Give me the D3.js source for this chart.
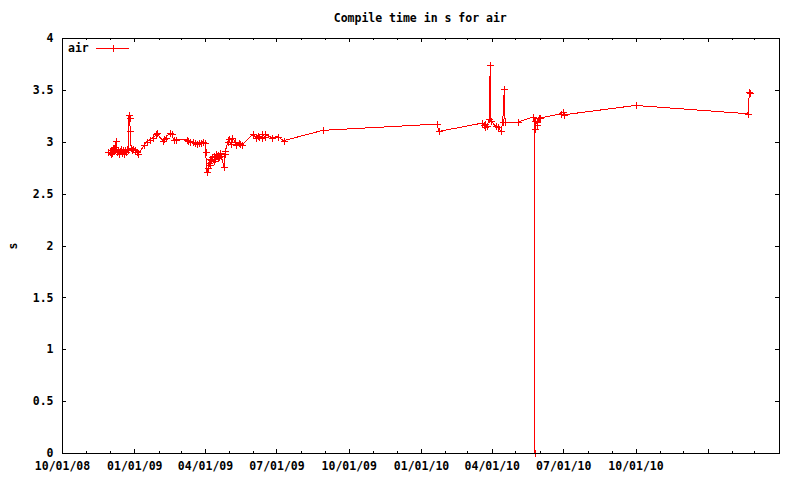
<!DOCTYPE html>
<html>
<head>
<meta charset="utf-8">
<script src="https://cdn.jsdelivr.net/npm/d3@7"></script>
<style>
  body { margin: 0; background: #fff; }
  text { font-family: "DejaVu Sans Mono", "Liberation Mono", monospace; font-weight: bold; font-size: 11.5px; fill: #000; }
</style>
</head>
<body>
<div id="chart"></div>
<script>
// build dates and compile times (seconds) for "air"
const dates = [
  "2008-11-29","2008-12-01","2008-12-02","2008-12-03","2008-12-04","2008-12-05","2008-12-06","2008-12-07",
  "2008-12-09","2008-12-10","2008-12-11","2008-12-12","2008-12-14","2008-12-15","2008-12-16","2008-12-18",
  "2008-12-19","2008-12-20","2008-12-22","2008-12-23","2008-12-24","2008-12-25","2008-12-26","2008-12-27",
  "2008-12-28","2008-12-29","2008-12-31","2009-01-02","2009-01-05","2009-01-06",
  "2009-01-14","2009-01-17","2009-01-21","2009-01-25","2009-01-29","2009-01-30",
  "2009-02-06","2009-02-08","2009-02-10","2009-02-15","2009-02-18","2009-02-20","2009-02-23",
  "2009-03-09","2009-03-10","2009-03-13","2009-03-17","2009-03-19","2009-03-22","2009-03-24","2009-03-27",
  "2009-03-29","2009-04-01","2009-04-02","2009-04-03","2009-04-05","2009-04-06","2009-04-07","2009-04-08",
  "2009-04-09","2009-04-10","2009-04-12","2009-04-13","2009-04-14","2009-04-15","2009-04-17","2009-04-18",
  "2009-04-19","2009-04-20","2009-04-22","2009-04-25","2009-04-26","2009-04-27","2009-04-30","2009-05-01",
  "2009-05-04","2009-05-06","2009-05-09","2009-05-11","2009-05-14","2009-05-16","2009-05-18",
  "2009-06-01","2009-06-05","2009-06-07","2009-06-09","2009-06-12","2009-06-13","2009-06-16","2009-06-17",
  "2009-06-25","2009-07-03","2009-07-10","2009-08-29",
  "2010-01-21","2010-01-24",
  "2010-03-20","2010-03-22","2010-03-23","2010-03-24","2010-03-26","2010-03-29","2010-03-30","2010-03-31",
  "2010-04-06","2010-04-09","2010-04-13","2010-04-15","2010-04-17","2010-04-18","2010-05-04",
  "2010-05-24","2010-05-26","2010-05-26","2010-05-26","2010-05-28","2010-05-29","2010-05-31","2010-06-02",
  "2010-06-28","2010-07-01","2010-07-02","2010-10-01",
  "2011-02-21","2011-02-23","2011-02-24"
];
const times = [
  2.90,2.90,2.88,2.92,2.89,2.94,2.91,2.95,
  3.01,2.90,2.92,2.88,2.91,2.93,2.89,2.92,
  2.88,2.92,2.90,2.93,2.92,3.26,3.23,3.10,
  2.94,2.92,2.93,2.92,2.90,2.88,
  2.97,3.00,3.02,3.04,3.07,3.08,
  3.01,3.03,3.04,3.08,3.07,3.02,3.02,
  3.02,3.01,3.00,3.00,2.99,2.98,2.99,2.99,
  3.00,2.99,2.90,2.71,2.75,2.80,2.83,2.78,
  2.82,2.85,2.81,2.86,2.83,2.88,2.84,2.87,
  2.85,2.89,2.86,2.76,2.88,2.91,3.00,3.03,
  2.98,3.04,3.00,2.97,2.99,2.98,2.97,
  3.07,3.04,3.06,3.05,3.04,3.07,3.05,3.07,
  3.04,3.05,3.01,3.11,
  3.17,3.10,
  3.18,3.16,3.14,3.17,3.15,3.22,3.74,3.20,
  3.15,3.14,3.10,3.19,3.51,3.19,3.19,
  3.24,3.20,0,3.12,3.19,3.16,3.23,3.23,
  3.27,3.29,3.26,3.35,
  3.27,3.48,3.47
];
const seriesName = "air";
const xMajorTicks = ["2008-10-01","2009-01-01","2009-04-01","2009-07-01","2009-10-01","2010-01-01","2010-04-01","2010-07-01","2010-10-01","2011-01-01"];
const xTickLabels = ["10/01/08","01/01/09","04/01/09","07/01/09","10/01/09","01/01/10","04/01/10","07/01/10","10/01/10"];
const yTicks = [0,0.5,1,1.5,2,2.5,3,3.5,4];

const parse = d3.utcParse("%Y-%m-%d");
const fmt = d3.utcFormat("%m/%d/%y");
const data = dates.map((d, i) => ({ date: parse(d), value: times[i] }));

const W = 800, H = 480;
const margin = { top: 38, right: 21.5, bottom: 27, left: 62 };
const width = W - margin.left - margin.right;
const height = H - margin.top - margin.bottom;

const svg = d3.select("#chart").append("svg")
  .attr("width", W).attr("height", H);
const g = svg.append("g").attr("transform", `translate(${margin.left},${margin.top})`);

const x = d3.scaleUtc().domain([parse("2008-10-01"), parse("2011-04-01")]).range([0, width]);
const y = d3.scaleLinear().domain([0, 4]).range([height, 0]);

const majors = xMajorTicks.map(parse);
const minors = d3.utcMonth.range(parse("2008-10-01"), parse("2011-04-02"));
const labelSet = new Set(xTickLabels);

// minor ticks bottom + top
g.append("g").attr("class", "x-minor").attr("transform", `translate(0,${height})`)
  .call(d3.axisBottom(x).tickValues(minors).tickSize(-2).tickFormat(""));
g.append("g").attr("class", "x-minor")
  .call(d3.axisTop(x).tickValues(minors).tickSize(-2).tickFormat(""));

// major ticks
g.append("g").attr("class", "x-axis").attr("transform", `translate(0,${height})`)
  .call(d3.axisBottom(x).tickValues(majors).tickSize(-4).tickPadding(9)
    .tickFormat(d => labelSet.has(fmt(d)) ? fmt(d) : ""));
g.append("g").attr("class", "x-axis")
  .call(d3.axisTop(x).tickValues(majors).tickSize(-4).tickFormat(""));

g.append("g").attr("class", "y-axis")
  .call(d3.axisLeft(y).tickValues(yTicks).tickSize(-4).tickPadding(8.5).tickFormat(d3.format("")));
g.append("g").attr("class", "y-axis").attr("transform", `translate(${width},0)`)
  .call(d3.axisRight(y).tickValues(yTicks).tickSize(-4).tickFormat(""));

g.selectAll(".domain").remove();
g.selectAll(".tick line").attr("stroke", "#000").attr("shape-rendering", "crispEdges");
g.selectAll(".tick text").attr("font-family", null).attr("font-size", null).style("fill", "#000");

// data line
const line = d3.line().x(d => x(d.date)).y(d => y(d.value));
g.append("path")
  .datum(data)
  .attr("fill", "none")
  .attr("stroke", "#ff0000")
  .attr("stroke-width", 1)
  .attr("shape-rendering", "crispEdges")
  .attr("d", line);

const plus = "M-3.5,0H3.5M0,-3.5V3.5";
g.selectAll(".pt").data(data).join("path")
  .attr("class", "pt")
  .attr("transform", d => `translate(${Math.round(x(d.date)) + 0.5},${Math.round(y(d.value)) + 0.5})`)
  .attr("d", plus)
  .attr("stroke", "#ff0000")
  .attr("shape-rendering", "crispEdges")
  .attr("fill", "none");

// border drawn over data
g.append("rect")
  .attr("x", 0.5).attr("y", 0.5)
  .attr("width", width).attr("height", height)
  .attr("fill", "none").attr("stroke", "#000").attr("shape-rendering", "crispEdges");

// legend
const leg = g.append("g").attr("transform", "translate(0,10)");
leg.append("text").attr("x", 6).attr("y", 4).text(seriesName);
leg.append("line").attr("x1", 34).attr("x2", 66.5).attr("y1", 0.5).attr("y2", 0.5)
  .attr("stroke", "#ff0000").attr("shape-rendering", "crispEdges");
leg.append("path").attr("d", plus).attr("transform", "translate(51,0.5)")
  .attr("stroke", "#ff0000").attr("fill", "none").attr("shape-rendering", "crispEdges");

// title and axis label
svg.append("text")
  .attr("x", margin.left + width / 2).attr("y", 22)
  .attr("text-anchor", "middle")
  .text("Compile time in s for air");

svg.append("text")
  .attr("transform", "translate(17,246) rotate(-90)")
  .attr("text-anchor", "middle")
  .text("s");
</script>
</body>
</html>
